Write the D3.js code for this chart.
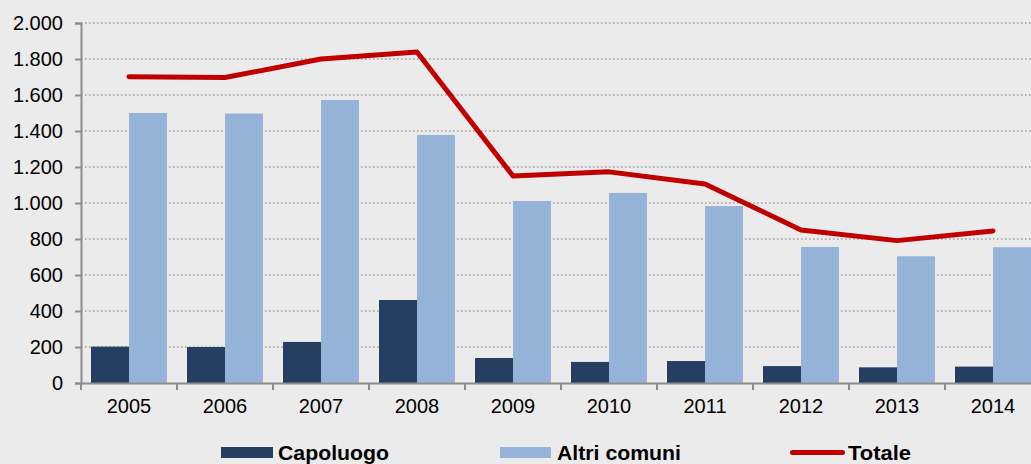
<!DOCTYPE html>
<html><head><meta charset="utf-8">
<script src="https://cdn.jsdelivr.net/npm/d3@7"></script>
<style>
html,body{margin:0;padding:0;background:#EBEBEB;}
svg{display:block;}
</style></head>
<body>
<script>
const years = ["2005","2006","2007","2008","2009","2010","2011","2012","2013","2014"];
const capoluogo = [202, 200, 228, 461, 139, 117, 122, 94, 87, 91];
const altriComuni = [1500, 1497, 1572, 1378, 1011, 1056, 983, 756, 704, 754];
const totale = [1702, 1697, 1800, 1839, 1150, 1173, 1105, 850, 791, 845];
const yTicks = [0, 200, 400, 600, 800, 1000, 1200, 1400, 1600, 1800, 2000];
const seriesNames = ["Capoluogo", "Altri comuni", "Totale"];
const colors = {"Capoluogo":"#243F60", "Altri comuni":"#95B3D7", "Totale":"#C00000"};

const W = 1031, H = 464;
const svg = d3.select("body").append("svg").attr("width", W).attr("height", H);
svg.append("rect").attr("width", W).attr("height", H).attr("fill", "#EBEBEB");

const x0 = 81, y0 = 383, yTop = 23;
const bandW = 96;
const x = d3.scaleBand().domain(years).range([x0, x0 + bandW * years.length]).padding(0);
const xs = d3.scaleBand().domain(["Capoluogo","Altri comuni"]).range([10, 86]).padding(0);
const y = d3.scaleLinear().domain([0, 2000]).range([y0, yTop]);

const fmt = v => d3.format(",")(v).replace(/,/g, ".");

// gridlines
svg.append("g").selectAll("line").data(yTicks.filter(d => d > 0)).join("line")
  .attr("x1", x0).attr("x2", W).attr("y1", d => y(d)).attr("y2", d => y(d))
  .attr("stroke", "#9A9A9A").attr("stroke-width", 1.5).attr("stroke-dasharray", "1.5,2.5");

// bars
const bars = svg.append("g");
years.forEach((yr, i) => {
  bars.append("rect").attr("x", x(yr) + xs("Capoluogo")).attr("width", xs.bandwidth())
    .attr("y", y(capoluogo[i])).attr("height", y0 - y(capoluogo[i])).attr("fill", colors["Capoluogo"]);
  bars.append("rect").attr("x", x(yr) + xs("Altri comuni")).attr("width", xs.bandwidth())
    .attr("y", y(altriComuni[i])).attr("height", y0 - y(altriComuni[i])).attr("fill", colors["Altri comuni"]);
});

// line
const line = d3.line().x((d, i) => x(years[i]) + bandW / 2).y(d => y(d));
svg.append("path").datum(totale).attr("d", line).attr("fill", "none")
  .attr("stroke", colors["Totale"]).attr("stroke-width", 5).attr("stroke-linecap", "round").attr("stroke-linejoin", "round");

// y axis
const yAxis = d3.axisLeft(y).tickValues(yTicks).tickFormat(fmt).tickSize(6).tickPadding(12);
const gy = svg.append("g").attr("transform", `translate(${x0},0)`).call(yAxis);
gy.select(".domain").attr("stroke", "#8C8C8C").attr("stroke-width", 2);
gy.selectAll(".tick line").attr("stroke", "#8C8C8C").attr("stroke-width", 2);
gy.selectAll("text").attr("font-family", "Liberation Sans, Arial, sans-serif").attr("font-size", 20).attr("fill", "#000");

// x axis
const xAxis = d3.axisBottom(x).tickSize(0).tickPadding(16);
const gx = svg.append("g").attr("transform", `translate(0,${y0})`).call(xAxis);
gx.select(".domain").attr("stroke", "#8C8C8C").attr("stroke-width", 2);
gx.selectAll("text").attr("font-family", "Liberation Sans, Arial, sans-serif").attr("font-size", 20).attr("fill", "#000");
gx.append("g").selectAll("line").data(years).join("line")
  .attr("x1", d => x(d)).attr("x2", d => x(d)).attr("y1", 0).attr("y2", 7)
  .attr("stroke", "#8C8C8C").attr("stroke-width", 2);

// legend
const legend = svg.append("g").attr("font-family", "Liberation Sans, Arial, sans-serif")
  .attr("font-weight", "bold").attr("font-size", 21);
const legItems = [
  {name: "Capoluogo", sx: 221, sw: 52, tx: 278, tw: 111, type: "rect"},
  {name: "Altri comuni", sx: 500, sw: 51, tx: 557, tw: 124, type: "rect"},
  {name: "Totale", sx: 790, sw: 55, tx: 848, tw: 63, type: "line"}
];
legItems.forEach(it => {
  if (it.type === "rect") {
    legend.append("rect").attr("x", it.sx).attr("y", 447).attr("width", it.sw).attr("height", 11).attr("fill", colors[it.name]);
  } else {
    legend.append("line").attr("x1", it.sx + 2.5).attr("x2", it.sx + it.sw - 2.5).attr("y1", 452.5).attr("y2", 452.5)
      .attr("stroke", colors[it.name]).attr("stroke-width", 5).attr("stroke-linecap", "round");
  }
  legend.append("text").attr("x", it.tx).attr("y", 460).text(it.name).attr("fill", "#000")
    .attr("textLength", it.tw).attr("lengthAdjust", "spacingAndGlyphs");
});
</script>
</body></html>
